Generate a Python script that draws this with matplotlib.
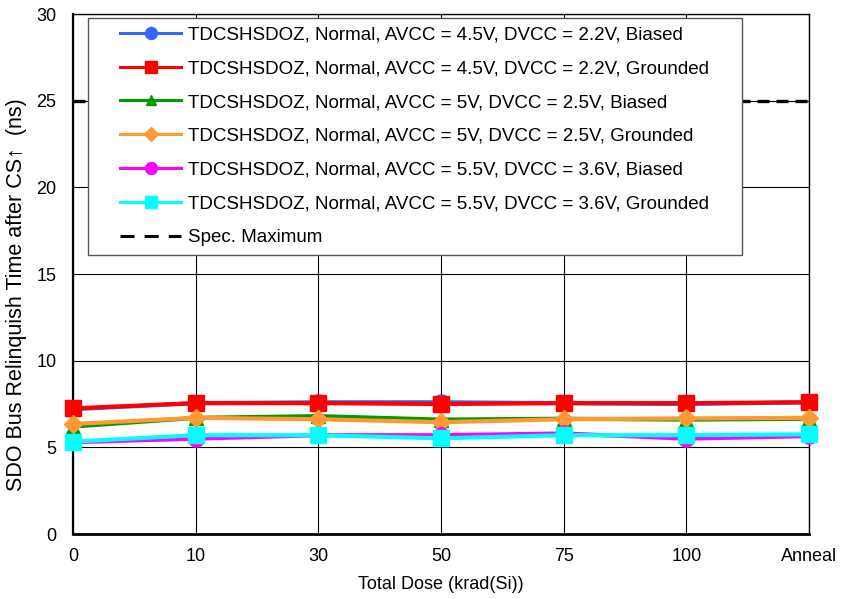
import matplotlib
matplotlib.use("Agg")
import matplotlib.pyplot as plt
from matplotlib.lines import Line2D
from matplotlib.legend_handler import HandlerLine2D

# Dose steps and measured relinquish times (ns)
doses = ["0", "10", "30", "50", "75", "100", "Anneal"]

avcc45_biased = [7.20, 7.55, 7.60, 7.60, 7.55, 7.50, 7.60]
avcc45_grounded = [7.25, 7.55, 7.55, 7.50, 7.55, 7.55, 7.60]
avcc5_biased = [6.20, 6.70, 6.80, 6.60, 6.65, 6.60, 6.65]
avcc5_grounded = [6.35, 6.70, 6.62, 6.45, 6.62, 6.67, 6.70]
avcc55_biased = [5.30, 5.50, 5.70, 5.70, 5.80, 5.50, 5.65]
avcc55_grounded = [5.33, 5.70, 5.70, 5.52, 5.70, 5.70, 5.75]
spec_max = 25

labels = [
    "TDCSHSDOZ, Normal, AVCC = 4.5V, DVCC = 2.2V, Biased",
    "TDCSHSDOZ, Normal, AVCC = 4.5V, DVCC = 2.2V, Grounded",
    "TDCSHSDOZ, Normal, AVCC = 5V, DVCC = 2.5V, Biased",
    "TDCSHSDOZ, Normal, AVCC = 5V, DVCC = 2.5V, Grounded",
    "TDCSHSDOZ, Normal, AVCC = 5.5V, DVCC = 3.6V, Biased",
    "TDCSHSDOZ, Normal, AVCC = 5.5V, DVCC = 3.6V, Grounded",
]
series = [avcc45_biased, avcc45_grounded, avcc5_biased,
          avcc5_grounded, avcc55_biased, avcc55_grounded]
colors = ["#3366FF", "#FF0000", "#009900", "#FF9933", "#FF00FF", "#00FFFF"]
markers = ["o", "s", "^", "D", "o", "s"]
msizes = [11, 11, 10, 9, 11, 11]

plt.rcParams["font.family"] = ["Liberation Sans", "DejaVu Sans"]

fig = plt.figure(figsize=(8.41, 5.99), dpi=100)
ax = fig.add_axes([0.0868, 0.1085, 0.8752, 0.8681])

x = list(range(len(doses)))
handles = []
for ys, c, m, ms, lab in zip(series, colors, markers, msizes, labels):
    ax.plot(x, ys, color=c, lw=3, marker=m, ms=ms, mec=c, mfc=c,
            clip_on=False, zorder=3)
    handles.append(Line2D([], [], color=c, lw=2.2, marker=m,
                          ms=ms * 0.78, mec=c, mfc=c, label=lab))

ax.plot([0, len(doses) - 1], [spec_max, spec_max], color="black", lw=2.4,
        dashes=(3.6, 2.1), zorder=2)
handles.append(Line2D([], [], color="black", lw=2.2, dashes=(4.6, 3.3),
                      label="Spec. Maximum"))

ax.set_xlim(0, len(doses) - 1)
ax.set_ylim(0, 30)
ax.set_xticks(x)
ax.set_xticklabels(doses, fontsize=13)
ax.set_yticks(range(0, 31, 5))
ax.tick_params(axis="both", length=0)
ax.tick_params(axis="x", pad=10, labelsize=13)
ax.tick_params(axis="y", pad=12, labelsize=13)
ax.grid(True, color="black", lw=0.8)
ax.set_axisbelow(True)

for side in ("top", "right"):
    ax.spines[side].set_linewidth(1.0)
ax.spines["left"].set_linewidth(1.6)
ax.spines["bottom"].set_linewidth(2.0)

ax.set_xlabel("Total Dose (krad(Si))", fontsize=13, labelpad=8)
ax.set_ylabel("SDO Bus Relinquish Time after CS\u2191  (ns)", fontsize=15.5)
ax.yaxis.set_label_coords(-0.0625, 0.46)

leg = ax.legend(handles=handles, loc="upper left",
                bbox_to_anchor=(0.0204, 0.993, 0.889, 0.0), mode="expand",
                fontsize=13.5, frameon=True, fancybox=False,
                edgecolor="#555555", framealpha=1, handlelength=4.5,
                handletextpad=0.37, labelspacing=0.89, borderpad=0.46,
                borderaxespad=0,
                handler_map={Line2D: HandlerLine2D(xpad=1.25)})
leg.get_frame().set_linewidth(1.0)
leg.set_zorder(5)

fig.savefig("out.png", dpi=100)
